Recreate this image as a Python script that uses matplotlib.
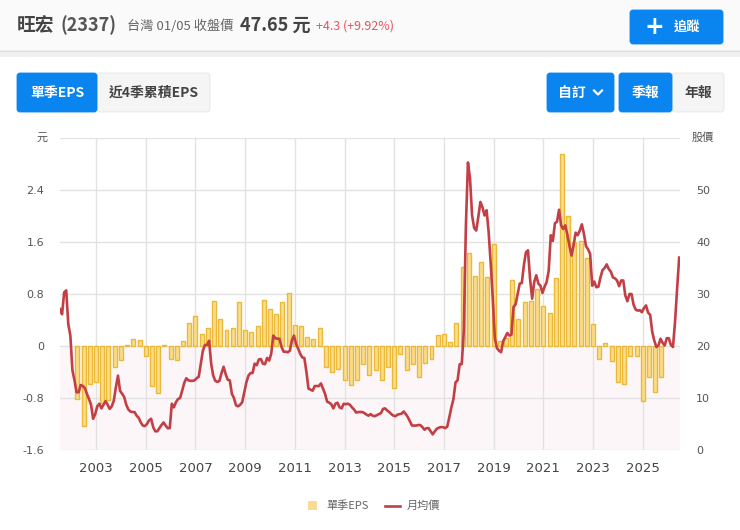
import numpy as np
import matplotlib
matplotlib.use('Agg')
import matplotlib.pyplot as plt
from matplotlib.patches import FancyBboxPatch, Rectangle

plt.rcParams['axes.unicode_minus'] = False
CJK = ['Noto Sans CJK TC', 'DejaVu Sans']

# quarterly EPS, first quarter 2002 Q2
eps = [
    -0.81, -1.23, -0.59, -0.55, -0.88, -0.83, -0.33, -0.22, 0.02, 0.11,
    0.09, -0.16, -0.61, -0.73, 0.01, -0.20, -0.22, 0.08, 0.36, 0.46,
    0.19, 0.28, 0.69, 0.41, 0.24, 0.28, 0.68, 0.25, 0.21, 0.31,
    0.71, 0.57, 0.49, 0.68, 0.81, 0.33, 0.31, 0.14, 0.11, 0.28,
    -0.33, -0.40, -0.35, -0.53, -0.60, -0.52, -0.27, -0.44, -0.37, -0.52,
    -0.32, -0.64, -0.12, -0.37, -0.27, -0.47, -0.26, -0.20, 0.17, 0.19,
    0.06, 0.35, 1.21, 1.43, 1.07, 1.30, 1.06, 1.57, 0.08, 0.13,
    1.01, 0.41, 0.68, 0.70, 0.88, 0.62, 0.51, 1.04, 2.95, 2.00,
    1.60, 1.61, 1.36, 0.34, -0.20, 0.04, -0.23, -0.55, -0.59, -0.16,
    -0.16, -0.85, -0.47, -0.70, -0.47,
]

# monthly average price
price = [
    27.1, 26.1, 30.3, 30.7, 24.2, 22.0, 15.3, 13.4, 11.1, 11.1,
    12.5, 12.3, 11.9, 10.8, 9.8, 8.7, 6.0, 6.9, 8.4, 8.9,
    8.0, 8.7, 9.4, 8.7, 7.9, 8.4, 9.5, 12.1, 14.3, 11.4,
    10.8, 10.2, 8.7, 7.8, 7.4, 7.3, 7.3, 6.6, 6.2, 5.3,
    4.7, 4.6, 5.0, 5.7, 6.0, 4.4, 3.6, 3.6, 4.2, 4.8,
    5.3, 4.7, 4.2, 4.2, 8.9, 8.2, 9.2, 9.8, 10.0, 11.4,
    12.9, 13.8, 13.4, 13.3, 13.3, 13.4, 13.8, 14.1, 16.6, 19.1,
    20.2, 20.2, 21.0, 16.6, 14.3, 13.3, 13.1, 13.3, 14.8, 16.0,
    14.6, 13.5, 13.4, 10.8, 10.0, 8.6, 8.4, 8.7, 9.2, 11.1,
    13.0, 14.3, 14.8, 14.8, 16.6, 16.3, 17.4, 17.5, 16.6, 16.5,
    17.7, 17.2, 18.5, 22.0, 21.5, 21.4, 21.4, 19.8, 18.9, 18.9,
    18.8, 19.1, 21.1, 22.0, 20.4, 19.5, 18.5, 17.8, 17.7, 15.0,
    11.8, 11.6, 11.4, 12.3, 12.3, 12.3, 12.8, 11.8, 10.8, 9.3,
    9.1, 8.8, 8.0, 8.9, 9.1, 8.2, 8.0, 8.9, 8.8, 8.9,
    8.7, 8.2, 7.8, 7.2, 7.3, 7.3, 7.3, 7.1, 6.8, 6.6,
    6.9, 6.6, 6.5, 6.7, 6.9, 7.1, 7.9, 8.0, 7.6, 7.3,
    6.9, 6.6, 6.5, 6.8, 6.9, 7.0, 7.4, 6.9, 6.3, 5.5,
    4.7, 4.7, 4.7, 4.8, 4.8, 4.4, 3.9, 4.2, 4.2, 3.6,
    3.0, 3.6, 4.1, 4.3, 4.4, 4.4, 4.2, 4.5, 6.3, 8.2,
    9.8, 13.0, 13.4, 16.5, 16.5, 23.0, 43.0, 55.3, 52.2, 45.1,
    42.7, 42.2, 44.8, 47.7, 46.7, 45.1, 46.1, 41.9, 35.8, 29.1,
    21.4, 19.6, 19.1, 18.8, 20.9, 21.7, 22.5, 22.0, 22.2, 27.5,
    28.0, 30.0, 32.0, 32.1, 35.5, 38.0, 38.4, 32.9, 29.1, 32.3,
    33.6, 32.0, 31.6, 30.2, 31.4, 32.3, 34.5, 41.3, 40.2, 43.6,
    43.9, 46.2, 43.2, 42.5, 43.2, 41.4, 39.3, 37.4, 39.3, 41.8,
    41.3, 42.2, 43.4, 41.6, 39.2, 38.6, 37.7, 31.6, 32.4, 31.3,
    31.4, 33.2, 34.6, 35.0, 35.7, 34.8, 34.3, 33.2, 33.0, 32.6,
    31.5, 32.6, 32.6, 29.7, 28.6, 30.0, 30.0, 27.9, 27.0, 26.8,
    26.9, 26.5, 27.3, 27.8, 26.4, 26.0, 22.7, 21.0, 19.8, 20.1,
    21.4, 20.6, 20.1, 21.5, 21.5, 20.2, 19.8, 24.6, 31.0, 37.0,
]

years = [2003, 2005, 2007, 2009, 2011, 2013, 2015, 2017, 2019, 2021, 2023, 2025]
eps_ticks = [-1.6, -0.8, 0, 0.8, 1.6, 2.4, 3.2]
eps_labels = ['-1.6', '-0.8', '0', '0.8', '1.6', '2.4', '']
price_ticks = [0, 10, 20, 30, 40, 50, 60]
price_labels = ['0', '10', '20', '30', '40', '50', '']

eps_x = 2002.25 + np.arange(len(eps)) * 0.25
price_x = 2001.55 + np.arange(len(price)) / 12

W, H = 740, 530
fig = plt.figure(figsize=(W / 100, H / 100), dpi=100, facecolor='white')

# page furniture in pixel coordinates
ui = fig.add_axes([0, 0, 1, 1], zorder=0)
ui.set_xlim(0, W)
ui.set_ylim(H, 0)
ui.axis('off')

BLUE = '#0a84ee'
GREY = '#f5f5f5'


def button(x0, x1, y0, y1, label, active, size=10):
    color = BLUE if active else GREY
    edge = BLUE if active else '#e6e6e6'
    ui.add_patch(FancyBboxPatch((x0, y0), x1 - x0, y1 - y0, boxstyle='round,pad=0,rounding_size=3',
                                fc=color, ec=edge, lw=0.6))
    ui.text((x0 + x1) / 2, (y0 + y1) / 2, label, color='white' if active else '#444444',
            family=CJK, fontsize=size, ha='center', va='center', weight='bold')


ui.add_patch(Rectangle((0, 0), W, 50, fc='#fafafa', ec='none'))
ui.add_patch(Rectangle((0, 50), W, 7, fc='#f0f0f0', ec='none'))
ui.plot([0, W], [50.5, 50.5], color='#dddddd', lw=0.8)

ui.text(17, 25, '旺宏', family=CJK, fontsize=13.5, weight='bold', color='#444444', va='center')
ui.text(61, 25, '(2337)', family=CJK, fontsize=13, weight='bold', color='#555555', va='center')
ui.text(127, 26, '台灣 01/05 收盤價', family=CJK, fontsize=9.5, color='#666666', va='center')
ui.text(240, 25, '47.65 元', family=CJK, fontsize=13, weight='bold', color='#444444', va='center')
ui.text(316, 26, '+4.3 (+9.92%)', family=CJK, fontsize=9, color='#e5555f', va='center')

button(630, 723, 10, 44, '', True)
ui.text(654, 27, '+', family='DejaVu Sans', fontsize=17, weight='bold', color='white', ha='center', va='center')
ui.text(687, 26.5, '追蹤', family=CJK, fontsize=9.5, color='white', ha='center', va='center', weight='bold')

button(97, 210, 73, 112, '近4季累積EPS', False)
button(17, 97, 73, 112, '單季EPS', True)
button(672, 724, 73, 112, '年報', False)
button(619, 672, 73, 112, '季報', True)
button(547, 614, 73, 112, '', True)
ui.text(572, 93, '自訂', family=CJK, fontsize=10, color='white', ha='center', va='center', weight='bold')
ui.plot([594, 598, 602], [90.5, 94.5, 90.5], color='white', lw=1.6)

# chart
ax = fig.add_axes([60 / W, 1 - 450 / H, 620 / W, 312 / H], zorder=1)
ax.patch.set_alpha(0)
ax.set_xlim(2001.55, 2026.5)
ax.set_ylim(-1.6, 3.2)
ax.axhspan(-1.6, 0, fc='#fdf6f8', ec='none', zorder=0)
ax.bar(eps_x, eps, width=0.16, facecolor='#fbdc8a', edgecolor='#eab93a', linewidth=1.0, zorder=3)
ax.set_yticks(eps_ticks, eps_labels)
ax.set_xticks(years, [str(y) for y in years])
ax.grid(True, color='#e2e2e2', lw=1, zorder=1)
ax.set_axisbelow(True)
ax.tick_params(axis='x', length=0, pad=8.5, labelsize=9.5, labelcolor='#444444')
ax.tick_params(axis='y', length=0, pad=11.5, labelsize=8, labelcolor='#555555')
for s in ax.spines.values():
    s.set_visible(False)

ax2 = ax.twinx()
ax2.set_ylim(0, 60)
ax2.plot(price_x, price, color='#c23f45', lw=1.9, solid_joinstyle='round', zorder=5)
ax2.set_yticks(price_ticks, price_labels)
ax2.tick_params(axis='y', length=0, pad=11.5, labelsize=8, labelcolor='#555555')
for s in ax2.spines.values():
    s.set_visible(False)

ui.text(42, 138, '元', family=CJK, fontsize=8, color='#555555', ha='center', va='center')
ui.text(703, 138, '股價', family=CJK, fontsize=8, color='#555555', ha='center', va='center')

# legend
ui.add_patch(Rectangle((308, 501), 9, 9, fc='#f6dc95', ec='none'))
ui.text(326, 506, '單季EPS', family=CJK, fontsize=8, color='#666666', va='center')
ui.plot([385, 400], [506, 506], color='#c23f45', lw=1.9)
ui.text(407, 506, '月均價', family=CJK, fontsize=8, color='#666666', va='center')

fig.savefig('out.png', dpi=100)
